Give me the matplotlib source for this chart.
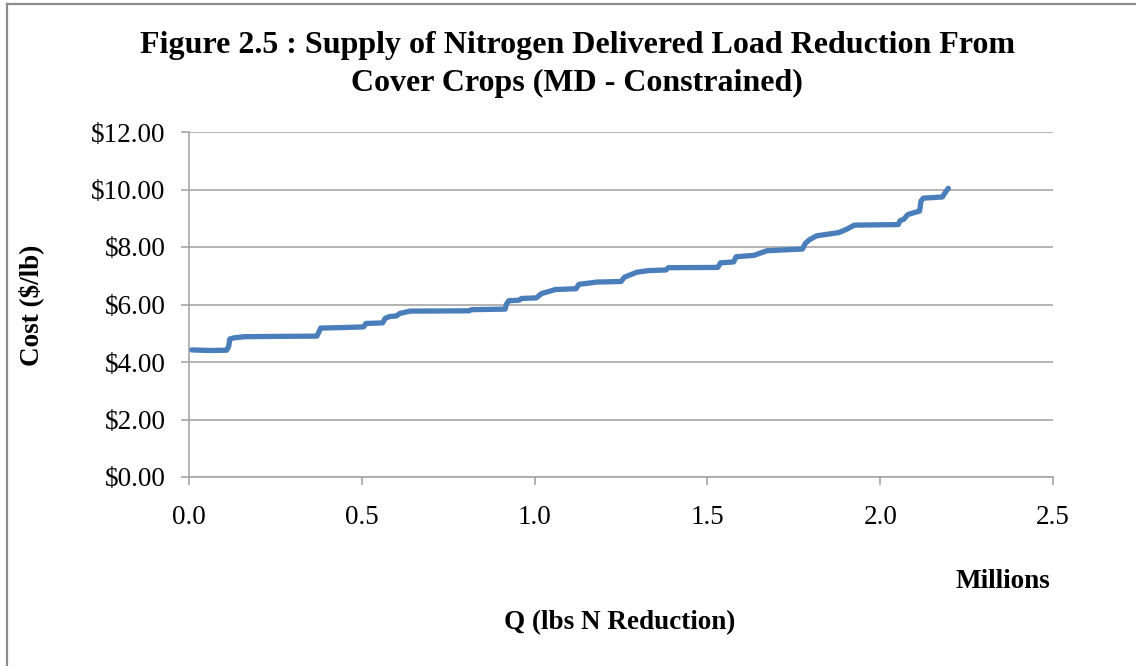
import matplotlib.pyplot as plt
from matplotlib.lines import Line2D
from matplotlib.ticker import FuncFormatter

# supply curve: cumulative reduction (millions of lbs) vs cost ($/lb)
q_millions = [0.008, 0.06, 0.109, 0.115, 0.118, 0.13, 0.16, 0.25, 0.37, 0.376, 0.381,
              0.45, 0.505, 0.512, 0.56, 0.568, 0.58, 0.60, 0.61, 0.64, 0.81, 0.818,
              0.915, 0.918, 0.925, 0.955, 0.962, 1.005, 1.02, 1.06, 1.12, 1.128, 1.18,
              1.25, 1.26, 1.295, 1.33, 1.38, 1.387, 1.53, 1.538, 1.576, 1.583, 1.635,
              1.672, 1.775, 1.783, 1.795, 1.816, 1.88, 1.905, 1.925, 2.052, 2.058,
              2.068, 2.08, 2.114, 2.118, 2.125, 2.18, 2.19, 2.197]
cost = [4.42, 4.40, 4.41, 4.55, 4.80, 4.84, 4.88, 4.89, 4.90, 5.05, 5.18,
        5.20, 5.22, 5.34, 5.36, 5.52, 5.58, 5.60, 5.69, 5.77, 5.78, 5.82,
        5.84, 6.00, 6.13, 6.15, 6.21, 6.23, 6.38, 6.52, 6.55, 6.70, 6.78,
        6.80, 6.95, 7.12, 7.18, 7.20, 7.28, 7.29, 7.45, 7.48, 7.66, 7.71,
        7.87, 7.93, 8.12, 8.25, 8.39, 8.50, 8.63, 8.76, 8.78, 8.92,
        8.96, 9.13, 9.25, 9.60, 9.70, 9.74, 9.93, 10.04]

x_ticks = [0.0, 0.5, 1.0, 1.5, 2.0, 2.5]
y_ticks = [0, 2, 4, 6, 8, 10, 12]

plt.rcParams["font.family"] = ["Liberation Serif", "DejaVu Serif"]

fig = plt.figure(figsize=(11.36, 6.66), dpi=100)
ax = fig.add_axes([189 / 1136, 1 - 477 / 666, (1053 - 189) / 1136, (477 - 132) / 666])

grid_c = "#a6a6a6"
ax.plot(q_millions, cost, color="#4a7ebb", linewidth=3.8, solid_capstyle="round",
        solid_joinstyle="round", zorder=3)

ax.set_xlim(0, 2.5)
ax.set_ylim(0, 12)
ax.set_xticks(x_ticks)
ax.set_yticks(y_ticks)
ax.xaxis.set_major_formatter(FuncFormatter(lambda v, _: f"{v:.1f}"))
ax.yaxis.set_major_formatter(FuncFormatter(lambda v, _: f"${v:.2f}"))
ax.grid(axis="y", color=grid_c, linewidth=1.2)
ax.set_axisbelow(True)
for s in ["top", "right"]:
    ax.spines[s].set_visible(False)
for s in ["left", "bottom"]:
    ax.spines[s].set_color(grid_c)
    ax.spines[s].set_linewidth(1.2)
ax.tick_params(axis="both", color=grid_c, width=1.2, length=6, labelsize=19.5)
ax.tick_params(axis="y", pad=11)
ax.tick_params(axis="x", pad=14)

fig.text(577 / 1136, 1 - 45 / 666, "Figure 2.5 : Supply of Nitrogen Delivered Load Reduction From",
         ha="center", va="center", fontsize=23, fontweight="bold")
fig.text(577 / 1136, 1 - 83 / 666, "Cover Crops (MD - Constrained)",
         ha="center", va="center", fontsize=23, fontweight="bold")
fig.text(31 / 1136, 1 - 305 / 666, "Cost ($/lb)", rotation=90, ha="center", va="center",
         fontsize=19.5, fontweight="bold")
fig.text(1050 / 1136, 1 - 581 / 666, "Millions", ha="right", va="center",
         fontsize=19.5, fontweight="bold")
fig.text(620 / 1136, 1 - 623 / 666, "Q (lbs N Reduction)", ha="center", va="center",
         fontsize=19.5, fontweight="bold")

# outer frame: only top and left edges show in the reference
fig.add_artist(Line2D([6.5 / 1136, 6.5 / 1136], [0, 1 - 4 / 666], color="#8c8c8c",
                      linewidth=1.6, transform=fig.transFigure))
fig.add_artist(Line2D([6.5 / 1136, 1], [1 - 4 / 666, 1 - 4 / 666], color="#8c8c8c",
                      linewidth=1.6, transform=fig.transFigure))

fig.savefig("out.png", dpi=100)
